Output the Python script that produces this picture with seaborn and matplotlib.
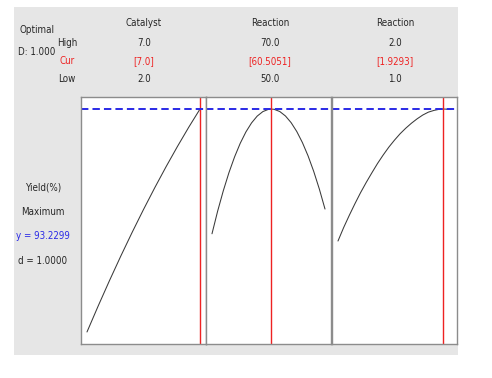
import matplotlib
matplotlib.use('Agg')
import matplotlib.pyplot as plt
import seaborn as sns
import pandas as pd
from matplotlib.patches import Rectangle

# values
catalyst = [2.0, 2.5, 3.0, 3.5, 4.0, 4.5, 5.0, 5.5, 6.0, 6.5, 7.0]
yield_catalyst = [55.00, 59.50, 63.85, 68.05, 72.10, 76.00, 79.75, 83.35, 86.80, 90.10, 93.23]

reaction_temp = [50, 51, 52, 53, 54, 55, 56, 57, 58, 59, 60, 60.5051,
                 61, 62, 63, 64, 65, 66, 67, 68, 69, 70]
yield_temp = [71.84, 75.72, 79.21, 82.32, 85.03, 87.36, 89.30, 90.85, 92.02, 92.79, 93.18, 93.23,
              93.18, 92.80, 92.04, 90.90, 89.38, 87.48, 85.20, 82.54, 79.50, 76.08]

reaction_time = [1.00, 1.05, 1.10, 1.15, 1.20, 1.25, 1.30, 1.35, 1.40, 1.45, 1.50,
                 1.55, 1.60, 1.65, 1.70, 1.75, 1.80, 1.85, 1.90, 1.9293, 1.95, 2.00]
yield_time = [70.60, 72.90, 75.00, 77.00, 78.90, 80.65, 82.30, 83.90, 85.35, 86.70, 87.90,
              89.00, 89.95, 90.80, 91.55, 92.20, 92.70, 93.00, 93.20, 93.23, 93.22, 93.15]

factor_names = ['Catalyst', 'Reaction', 'Reaction']
high_vals = ['7.0', '70.0', '2.0']
cur_vals = ['[7.0]', '[60.5051]', '[1.9293]']
low_vals = ['2.0', '50.0', '1.0']
current = [7.0, 60.5051, 1.9293]
y_opt = 93.2299

sns.set_style('white')
plt.rcParams['font.family'] = ['DejaVu Sans']
plt.rcParams['font.stretch'] = 'condensed'
plt.rcParams['font.size'] = 7

W, H = 492, 378
fig = plt.figure(figsize=(W / 100, H / 100), dpi=100)
fig.patch.set_facecolor('white')

def fx(px):
    return px / W

def fy(py):
    return 1 - py / H

# grey backdrop
fig.patches.append(Rectangle((fx(14), fy(355)), fx(444), 348 / H,
                             transform=fig.transFigure, facecolor='#e6e6e6',
                             edgecolor='none', zorder=-5))

series = [(catalyst, yield_catalyst), (reaction_temp, yield_temp), (reaction_time, yield_time)]
all_y = yield_catalyst + yield_temp + yield_time
ylo, yhi = min(all_y), max(all_y)
ypad = 0.054 * (yhi - ylo)

lefts = [81, 206, 332]
for i, (xs, ys) in enumerate(series):
    ax = fig.add_axes([fx(lefts[i]), fy(344), fx(125), 247 / H])
    df = pd.DataFrame({'x': xs, 'y': ys})
    sns.lineplot(data=df, x='x', y='y', ax=ax, color='#3a3a3a', linewidth=0.75)
    xlo, xhi = min(xs), max(xs)
    xpad = 0.053 * (xhi - xlo)
    ax.set_xlim(xlo - xpad, xhi + xpad)
    ax.set_ylim(ylo - ypad, yhi + ypad)
    ax.axvline(current[i], color='#ee2222', linewidth=1.0)
    ax.axhline(y_opt, color='#2a2ae6', linewidth=1.4, linestyle=(0, (3.8, 2.1)))
    ax.set_xticks([])
    ax.set_yticks([])
    ax.set_xlabel('')
    ax.set_ylabel('')
    ax.set_facecolor('white')
    for s in ax.spines.values():
        s.set_color('#8c8c8c')
        s.set_linewidth(1.0)

    cx = [144, 270, 395][i]
    fig.text(fx(cx), fy(23), factor_names[i], ha='center', va='center')
    fig.text(fx(cx), fy(43), high_vals[i], ha='center', va='center')
    fig.text(fx(cx), fy(61), cur_vals[i], ha='center', va='center', color='#ee2222')
    fig.text(fx(cx), fy(79), low_vals[i], ha='center', va='center')

fig.text(fx(37), fy(30), 'Optimal', ha='center', va='center')
fig.text(fx(37), fy(52), 'D: 1.000', ha='center', va='center')
fig.text(fx(67), fy(43), 'High', ha='center', va='center')
fig.text(fx(67), fy(61), 'Cur', ha='center', va='center', color='#ee2222')
fig.text(fx(67), fy(79), 'Low', ha='center', va='center')

fig.text(fx(43), fy(188), 'Yield(%)', ha='center', va='center')
fig.text(fx(43), fy(212), 'Maximum', ha='center', va='center')
fig.text(fx(43), fy(236), 'y = 93.2299', ha='center', va='center', color='#2a2ae6')
fig.text(fx(43), fy(261), 'd = 1.0000', ha='center', va='center')

fig.savefig('out.png', dpi=100, facecolor='white')
